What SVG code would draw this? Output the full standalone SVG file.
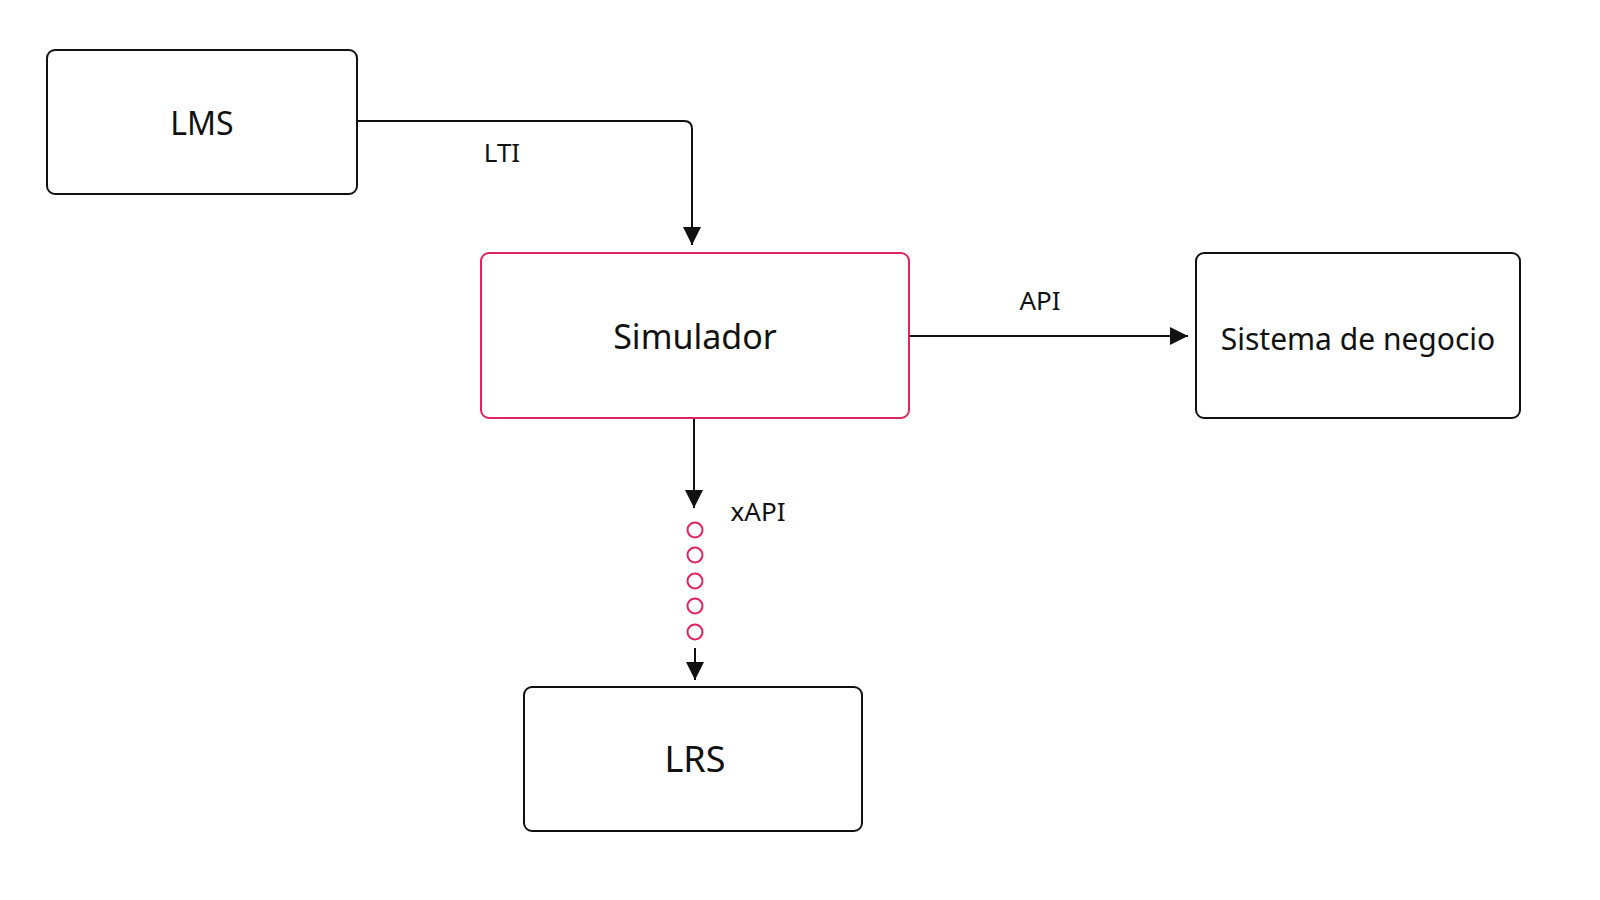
<svg xmlns="http://www.w3.org/2000/svg" width="1600" height="900" viewBox="0 0 1600 900">
<style>
.box{fill:#fff;stroke:#111;stroke-width:2}
.sim{fill:#fff;stroke:#e0245e;stroke-width:2}
.t{font-family:"Noto Sans",sans-serif;fill:#111;text-anchor:middle}
.c{fill:none;stroke:#111;stroke-width:2}
.dot{fill:none;stroke:#e0245e;stroke-width:2}
</style>
<defs><marker id="a" viewBox="0 0 10 10" refX="10" refY="5" markerWidth="9" markerHeight="9" markerUnits="userSpaceOnUse" orient="auto"><path d="M0,0L10,5L0,10z" fill="#111"/></marker>
<marker id="b" viewBox="0 0 10 10" refX="10" refY="5" markerWidth="18" markerHeight="18" markerUnits="userSpaceOnUse" orient="auto"><path d="M0,0L10,5L0,10z" fill="#111"/></marker></defs>
<rect width="1600" height="900" fill="#fff"/>
<g id="connectors">
<path class="c" d="M357,121H684Q692,121 692,129V245" marker-end="url(#b)"/>
<text class="t" x="502" y="162" font-size="26">LTI</text>
<path class="c" d="M910,336H1188" marker-end="url(#b)"/>
<text class="t" x="1040" y="310" font-size="26">API</text>
<path class="c" d="M694,419V508" marker-end="url(#b)"/>
<text class="t" x="758" y="521" font-size="26">xAPI</text>
<g class="dot"><circle cx="695" cy="530" r="7.5"/><circle cx="695" cy="555" r="7.5"/><circle cx="695" cy="581" r="7.5"/><circle cx="695" cy="606" r="7.5"/><circle cx="695" cy="632" r="7.5"/></g>
<path class="c" d="M695,648V680" marker-end="url(#b)"/>
</g>
<g id="lms"><rect class="box" x="47" y="50" width="310" height="144" rx="8"/><text class="t" x="202" y="135" font-size="32">LMS</text></g>
<g id="simulador"><rect class="sim" x="481" y="253" width="428" height="165" rx="8"/><text class="t" x="695" y="349" font-size="34">Simulador</text></g>
<g id="sistema"><rect class="box" x="1196" y="253" width="324" height="165" rx="8"/><text class="t" x="1358" y="350" font-size="30">Sistema de negocio</text></g>
<g id="lrs"><rect class="box" x="524" y="687" width="338" height="144" rx="8"/><text class="t" x="695" y="772" font-size="36">LRS</text></g>
</svg>
